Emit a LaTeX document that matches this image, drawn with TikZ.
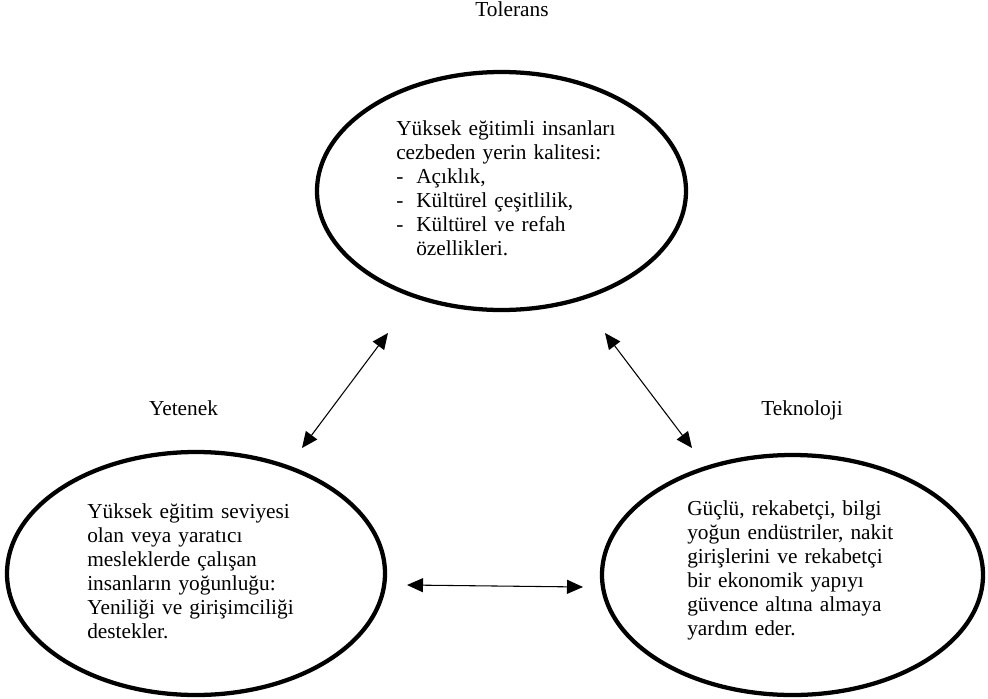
\documentclass[tikz,border=0pt]{standalone}
\usepackage{fontspec}
\setmainfont{Liberation Serif}
\usetikzlibrary{shapes.geometric,arrows.meta}
\begin{document}
\begin{tikzpicture}[x=0.75pt,y=-0.75pt,
  oval/.style={draw,ellipse,line width=3.2pt,inner sep=0pt},
  bodytext/.style={font=\fontsize{16pt}{18pt}\selectfont,align=left,text width=300pt,inner sep=0pt,anchor=base west},
  lbl/.style={font=\fontsize{16pt}{18pt}\selectfont,inner sep=0pt,anchor=base},
  link/.style={line width=0.8pt,{Triangle[length=12pt,width=10.5pt]}-{Triangle[length=12pt,width=10.5pt]}}]
\useasboundingbox (0,0) rectangle (988,699);
\node[oval,minimum width=276.75pt,minimum height=178.5pt] (tol) at (501.5,191) {};
\node[oval,minimum width=283.5pt,minimum height=182.25pt] (yet) at (196,573.5) {};
\node[oval,minimum width=285.75pt,minimum height=180pt] (tek) at (792.5,575) {};
\node[lbl] (ltol) at (512,17) {Tolerans};
\node[lbl] (lyet) at (183.5,415) {Yetenek};
\node[lbl] (ltek) at (802,415) {Teknoloji};
\node[bodytext] (ttol) at (396,135) {Yüksek eğitimli insanları\\
cezbeden yerin kalitesi:\\
\makebox[15pt][l]{-}Açıklık,\\
\makebox[15pt][l]{-}Kültürel çeşitlilik,\\
\makebox[15pt][l]{-}Kültürel ve refah\\
\hspace*{15pt}özellikleri.};
\node[bodytext] (tyet) at (87,518) {Yüksek eğitim seviyesi\\
olan veya yaratıcı\\
mesleklerde çalışan\\
insanların yoğunluğu:\\
Yeniliği ve girişimciliği\\
destekler.};
\node[bodytext] (ttek) at (687,515) {Güçlü, rekabetçi, bilgi\\
yoğun endüstriler, nakit\\
girişlerini ve rekabetçi\\
bir ekonomik yapıyı\\
güvence altına almaya\\
yardım eder.};
\coordinate (a1) at (388,333);
\coordinate (b1) at (302,448);
\coordinate (a2) at (605,333);
\coordinate (b2) at (692,448);
\coordinate (a3) at (407,585);
\coordinate (b3) at (583,587);
\draw[link] (a1) -- (b1);
\draw[link] (a2) -- (b2);
\draw[link] (a3) -- (b3);
\end{tikzpicture}
\end{document}
